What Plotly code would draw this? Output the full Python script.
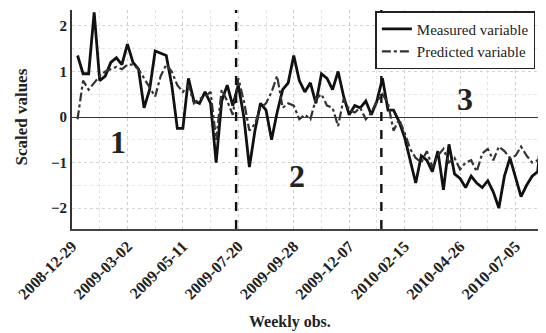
import plotly.graph_objects as go

# weekly observation index (1..86)
obs_index = list(range(1, 87))

measured = [1.35, 0.95, 0.95, 2.3, 0.8, 0.9, 1.2, 1.3, 1.15, 1.6,
            1.2, 1.05, 0.2, 0.6, 1.45, 1.4, 1.35, 0.7, -0.25, -0.25,
            0.85, 0.35, 0.3, 0.55, 0.3, -1.0, 0.35, 0.7, 0.25, 0.7,
            0.0, -1.1, -0.3, 0.3, 0.15, -0.5, 0.1, 0.6, 0.75, 1.35,
            0.8, 0.55, 0.75, 0.3, 0.95, 0.85, 0.6, 1.0, 0.45, 0.05,
            0.25, 0.2, 0.35, 0.05, 0.35, 0.85, 0.15, 0.15, -0.1, -0.45,
            -0.95, -1.45, -0.85, -0.95, -1.2, -0.75, -1.6, -0.6, -1.25, -1.35,
            -1.55, -1.3, -1.45, -1.55, -1.4, -1.65, -2.0, -1.3, -0.9, -1.3,
            -1.75, -1.5, -1.3, -1.2, 0.05, -1.15]

predicted = [-0.05, 0.8, 0.6, 0.75, 0.9, 1.0, 1.05, 1.1, 1.05, 1.15,
             1.15, 1.05, 0.85, 0.65, 0.45, 0.9, 1.15, 1.0, 0.7, 0.55,
             0.7, 0.3, 0.4, 0.45, 0.55, -0.5, 0.6, 0.35, 0.05, 0.85,
             0.35, -0.3, -0.15, 0.2, 0.3, 0.55, 0.9, 0.2, 0.3, 0.25,
             -0.05, 0.05, -0.05, 0.4, 0.5, 0.25, 0.2, -0.2, 0.4, 0.15,
             0.1, 0.2, -0.05, 0.1, 0.35, 0.5, 0.3, -0.3, -0.05, -0.35,
             -0.7, -0.9, -1.0, -0.75, -1.1, -0.85, -0.7, -1.0, -0.9, -1.15,
             -1.0, -0.95, -1.2, -0.8, -0.7, -0.95, -0.65, -0.75, -0.9, -0.85,
             -0.65, -0.85, -1.0, -0.95, -1.25, -1.3]

tick_positions = [0, 10, 20, 30, 40, 50, 60, 70, 80]
tick_labels = ["2008-12-29", "2009-03-02", "2009-05-11", "2009-07-20", "2009-09-28",
               "2009-12-07", "2010-02-15", "2010-04-26", "2010-07-05"]

regime_breaks = [29.6, 55.8]
regime_labels = ["1", "2", "3"]
regime_label_x = [8.3, 40.5, 70.8]
regime_label_y = [-0.55, -1.3, 0.4]

FONT = "Liberation Serif"
TXT = "#222222"

fig = go.Figure()
fig.add_trace(go.Scatter(x=obs_index, y=measured, mode="lines", name="Measured variable",
                         line=dict(color="#111111", width=2.8)))
fig.add_trace(go.Scatter(x=obs_index, y=predicted, mode="lines", name="Predicted variable",
                         line=dict(color="#333333", width=2.2, dash="dashdot")))

for xb in regime_breaks:
    fig.add_vline(x=xb, line=dict(color="#111111", width=2.4, dash="dash"))

for t, xx, yy in zip(regime_labels, regime_label_x, regime_label_y):
    fig.add_annotation(x=xx, y=yy, text=t, showarrow=False,
                       font=dict(family=FONT, size=32, color=TXT, weight="bold"))

# axis titles as annotations for exact placement
fig.add_annotation(xref="paper", yref="paper", x=0.46, y=0, yanchor="middle",
                   yshift=-93, text="Weekly obs.", showarrow=False,
                   font=dict(family=FONT, size=16, color=TXT, weight="bold"))
fig.add_annotation(xref="paper", yref="paper", x=0, y=0.509, xanchor="center",
                   xshift=-50, textangle=-90, text="Scaled values", showarrow=False,
                   font=dict(family=FONT, size=17, color=TXT, weight="bold"))

# page body has an 8px default margin, so the figure is sized/offset to compensate
fig.update_layout(
    width=538, height=325,
    margin=dict(l=64, r=0, t=2, b=104),
    paper_bgcolor="white", plot_bgcolor="white",
    font=dict(family=FONT, color=TXT),
    showlegend=True,
    legend=dict(x=0.64, y=0.995, xanchor="left", yanchor="top",
                bgcolor="white", bordercolor="#222222", borderwidth=1.5,
                font=dict(family=FONT, size=15, color=TXT),
                tracegroupgap=0, itemwidth=30),
)

fig.update_xaxes(
    range=[0, 85.5], automargin=False,
    tickmode="array", tickvals=tick_positions, ticktext=tick_labels,
    tickangle=-45, tickfont=dict(family=FONT, size=16, weight="bold", color=TXT),
    showgrid=True, gridcolor="#cfcfcf", griddash="dot", gridwidth=1,
    minor=dict(tickvals=[5, 15, 25, 35, 45, 55, 65, 75, 85], showgrid=True,
               gridcolor="#e2e2e2", griddash="dot"),
    showline=True, linecolor="#444444", linewidth=1.5,
    ticks="", zeroline=False,
)

fig.update_yaxes(
    range=[-2.46, 2.35], automargin=False,
    tickvals=[-2, -1, 0, 1, 2],
    tickfont=dict(family=FONT, size=15, weight="bold", color=TXT),
    showgrid=True, gridcolor="#d5d5d5", griddash="dot", gridwidth=1,
    minor=dict(tickvals=[-1.5, -0.5, 0.5, 1.5], showgrid=True,
               gridcolor="#e6e6e6", griddash="dot"),
    showline=True, linecolor="#333333", linewidth=2,
    zeroline=True, zerolinecolor="#333333", zerolinewidth=1.3,
    ticks="",
)

fig.write_html("out.html")
